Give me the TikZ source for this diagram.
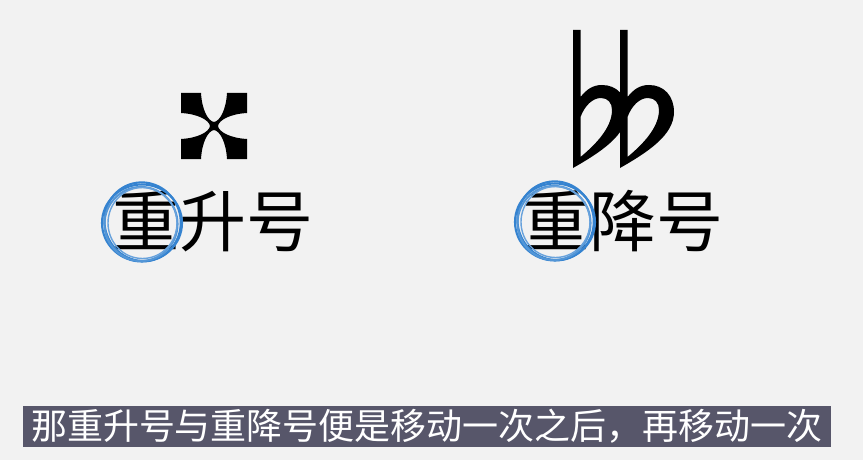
\documentclass[tikz,border=0pt]{standalone}
\usepackage{fontspec}
\setmainfont{Noto Sans CJK SC}
\usetikzlibrary{positioning}
\definecolor{bgpaper}{HTML}{F2F2F2}
\definecolor{subbar}{HTML}{57566A}
\definecolor{markblue}{HTML}{3583D0}
\tikzset{
  lbl/.style={inner sep=0pt, font=\fontsize{67}{67}\selectfont, text=black},
  subt/.style={fill=subbar, text=white, inner sep=0pt, minimum width=808pt,
    minimum height=41pt, font=\fontsize{36}{36}\selectfont},
  ring/.style={draw=markblue, line width=2.1pt},
  glyph/.style={fill=black, draw=none},
}

\begin{document}
\begin{tikzpicture}[x=1pt,y=-1pt]
    \fill[bgpaper] (0,0) rectangle (863,460);
    \useasboundingbox (0,0) rectangle (863,460);
    % double sharp
    \fill[glyph, shift={(214,126)}] (-33,-33) -- (-13,-33)
      .. controls (-12,-16) and (-6,-5) .. (0,-4) .. controls (6,-5) and (12,-16) .. (13,-33)
      -- (33,-33) -- (33,-13)
      .. controls (16,-12) and (5,-6) .. (4,0) .. controls (5,6) and (16,12) .. (33,13)
      -- (33,33) -- (13,33)
      .. controls (12,16) and (6,5) .. (0,4) .. controls (-6,5) and (-12,16) .. (-13,33)
      -- (-33,33) -- (-33,13)
      .. controls (-16,12) and (-5,6) .. (-4,0) .. controls (-5,-6) and (-16,-12) .. (-33,-13)
      -- cycle;
    % double flat
    \foreach \sx in {573,620} {
      \fill[glyph, even odd rule, shift={(\sx,0)}] (0,30) -- (7.5,30) -- (7.5,97)
        .. controls (14,89) and (20,85) .. (29,85) .. controls (44,85) and (54,96) .. (54,112)
        .. controls (54,135) and (28,152) .. (0,168) -- cycle
        (7.5,117) .. controls (12,105) and (20,98) .. (28,98)
        .. controls (35,98) and (39,103) .. (39,110)
        .. controls (39,128) and (22,145) .. (7.5,157) -- cycle;
    }
    % labels
    \node[lbl] (dsharp) at (213,221) {重升号};
    \node[lbl] (dflat) at (623,221) {重降号};
    % scribbled rings
    \coordinate (rs) at (142,223);
    \coordinate (rf) at (555,222);
    \foreach \c in {rs,rf} {
      \draw[ring] (\c) ellipse [x radius=40, y radius=38.5];
      \draw[ring, rotate around={20:(\c)}] ([shift={(1,-1)}]\c) ellipse [x radius=38, y radius=39.5];
      \draw[ring, markblue!85] ([shift={(-1,1)}]\c) ellipse [x radius=36.5, y radius=37];
      \draw[ring, markblue!75, line width=1.4pt] ([shift={(0.5,0)}]\c) ellipse [x radius=34.5, y radius=35.5];
    }
    % subtitle
    \node[subt] (sub) at (427,426.5) {那重升号与重降号便是移动一次之后，再移动一次};
\end{tikzpicture}
\end{document}
